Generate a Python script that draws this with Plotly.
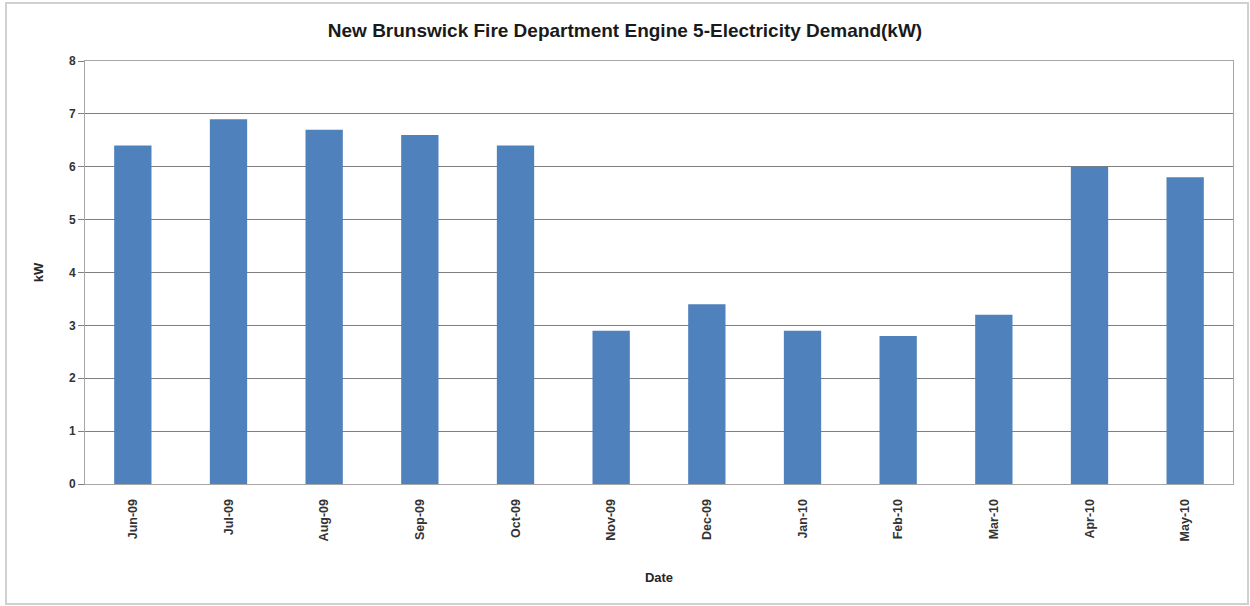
import plotly.graph_objects as go

months = ["Jun-09", "Jul-09", "Aug-09", "Sep-09", "Oct-09", "Nov-09",
          "Dec-09", "Jan-10", "Feb-10", "Mar-10", "Apr-10", "May-10"]
demand_kw = [6.4, 6.9, 6.7, 6.6, 6.4, 2.9, 3.4, 2.9, 2.8, 3.2, 6.0, 5.8]
y_ticks = [0, 1, 2, 3, 4, 5, 6, 7, 8]

W, H = 1250, 606
L, R, T, B = 85, 17, 61, 122
pw, ph = W - L - R, H - T - B

def px_x(x):
    return (x - L) / pw

def px_y(y):
    return (H - B - y) / ph

fig = go.Figure()
fig.add_trace(go.Bar(x=months, y=demand_kw, marker=dict(color="#4F81BD", line=dict(width=0))))

fig.update_layout(
    width=W, height=H,
    margin=dict(l=L, r=R, t=T, b=B),
    paper_bgcolor="white", plot_bgcolor="white",
    bargap=0.61,
    showlegend=False,
    font=dict(family="Liberation Sans", color="#262626"),
    title=dict(text="<b>New Brunswick Fire Department Engine 5-Electricity Demand(kW)</b>",
               x=0.5, xanchor="center", y=1 - 30 / H, yanchor="middle",
               font=dict(size=19, color="#1a1a1a", family="Liberation Sans")),
    xaxis=dict(
        type="category", tickangle=-90,
        tickvals=months, ticktext=["<b>%s</b>" % m for m in months],
        tickfont=dict(size=12.5, color="#333333"),
        showgrid=False, showline=True, linecolor="#a6a6a6", linewidth=1,
        mirror=True, ticks="outside", ticklen=9, tickcolor="rgba(0,0,0,0)",
        title=dict(text="<b>Date</b>", font=dict(size=13, color="#262626"), standoff=32),
    ),
    yaxis=dict(
        range=[0, 8], tickvals=y_ticks, ticktext=["<b>%d</b>" % v for v in y_ticks],
        tickfont=dict(size=12, color="#333333"),
        showgrid=True, gridcolor="#7f7f7f", gridwidth=1,
        showline=True, linecolor="#a6a6a6", linewidth=1, mirror=True,
        ticks="outside", ticklen=6, tickcolor="#7f7f7f",
        zeroline=False,
        title=dict(text="<b>kW</b>", font=dict(size=13, color="#262626"), standoff=22),
    ),
    shapes=[dict(type="rect", xref="paper", yref="paper",
                 x0=px_x(6), x1=px_x(1248), y0=px_y(604), y1=px_y(3),
                 line=dict(color="#d0d0d0", width=2), fillcolor="rgba(0,0,0,0)", layer="below")],
)

fig.write_html("out.html")
